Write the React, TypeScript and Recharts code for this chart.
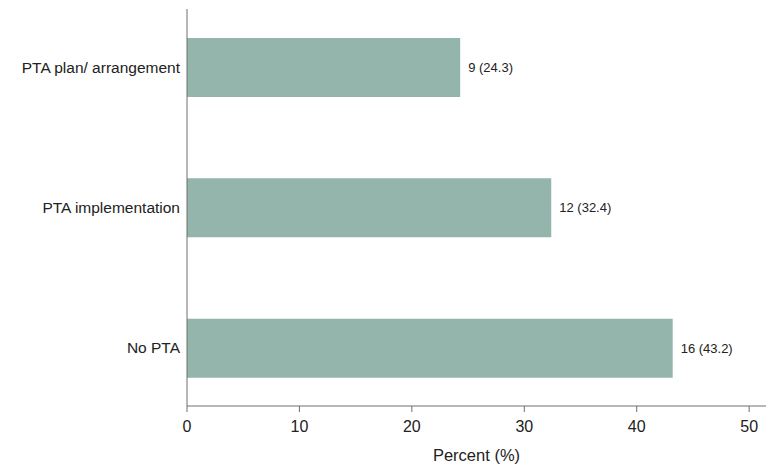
// Grafico a barre orizzontali: distribuzione PTA (n e %)
import { BarChart, Bar, XAxis, YAxis, LabelList } from 'recharts';

const categories = ['PTA plan/ arrangement', 'PTA implementation', 'No PTA'];
const counts = [9, 12, 16];
const percents = [24.3, 32.4, 43.2];
const xTicks = [0, 10, 20, 30, 40, 50];

const BAR_COLOR = '#93b5ac';
const AXIS_COLOR = '#6e6e6e';
const TEXT_COLOR = '#222';
const FONT = '"Liberation Sans", Arial, sans-serif';

const data = categories.map((name, i) => ({
  name,
  value: percents[i],
  label: `${counts[i]} (${percents[i].toFixed(1)})`,
}));

export default function App() {
  return (
    <div style={{ position: 'absolute', left: 0, top: 0, background: '#fff', fontFamily: FONT }}>
      <BarChart
        width={777}
        height={471}
        data={data}
        layout="vertical"
        margin={{ top: 9, right: 11, bottom: 0, left: 0 }}
      >
        <XAxis
          type="number"
          domain={[0, 51.5]}
          ticks={xTicks}
          height={65}
          tickSize={6}
          tickMargin={9}
          stroke={AXIS_COLOR}
          tick={{ fill: TEXT_COLOR, fontSize: 16, fontFamily: FONT }}
          label={{
            value: 'Percent (%)',
            position: 'insideBottom',
            offset: 10,
            fill: TEXT_COLOR,
            fontSize: 16.5,
            fontFamily: FONT,
          }}
        />
        <YAxis
          type="category"
          dataKey="name"
          width={187}
          padding={{ top: -12, bottom: -12 }}
          tickLine={false}
          tickSize={0}
          tickMargin={7}
          stroke={AXIS_COLOR}
          tick={{ fill: TEXT_COLOR, fontSize: 15.5, fontFamily: FONT }}
        />
        <Bar dataKey="value" fill={BAR_COLOR} barSize={59} isAnimationActive={false}>
          <LabelList
            dataKey="label"
            position="right"
            offset={8}
            fill={TEXT_COLOR}
            fontSize={13}
            fontFamily={FONT}
          />
        </Bar>
      </BarChart>
    </div>
  );
}
